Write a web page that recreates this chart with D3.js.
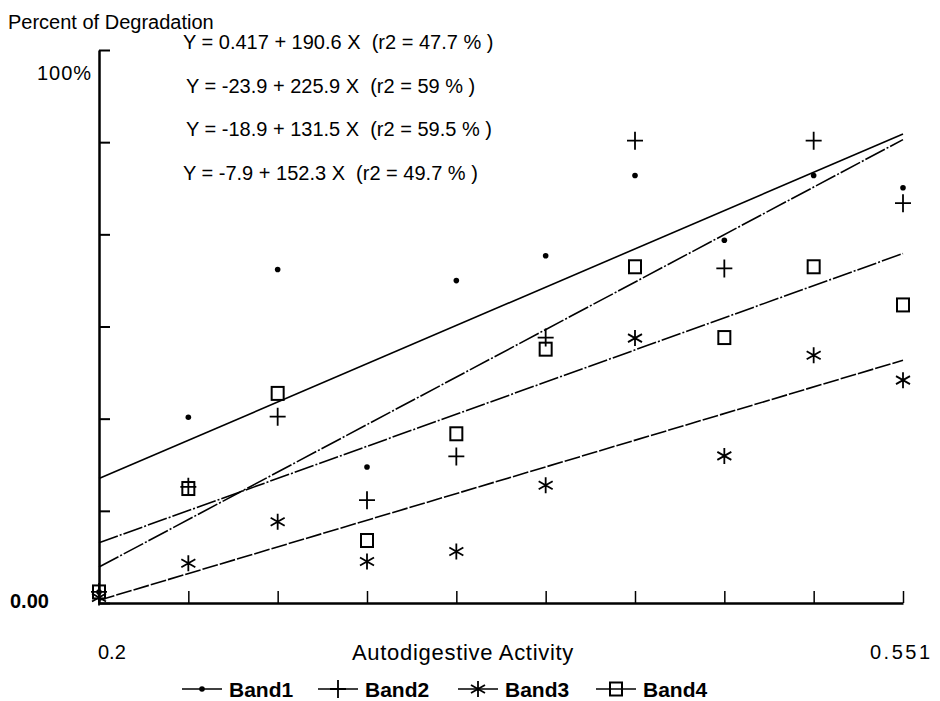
<!DOCTYPE html>
<html>
<head>
<meta charset="utf-8">
<script src="https://cdn.jsdelivr.net/npm/d3@7"></script>
<style>
  body { margin: 0; background: #fff; }
  text { font-family: "Liberation Sans", Arial, sans-serif; fill: #000; }
</style>
</head>
<body>
<div id="chart"></div>
<script>
var margin = { top: 50, right: 37, bottom: 98, left: 99 };
var width = 940 - margin.left - margin.right;
var height = 701 - margin.top - margin.bottom;

// x values where each band was measured
var xValues = [0.2, 0.239, 0.278, 0.317, 0.356, 0.395, 0.434, 0.473, 0.512, 0.551];
var bandNames = ['Band1', 'Band2', 'Band3', 'Band4'];
var band1 = [2, 33.6, 60.3, 24.6, 58.3, 62.8, 77.3, 65.6, 77.3, 75.1];
var band2 = [2, 21.0, 33.7, 18.6, 26.5, 48.0, 83.6, 60.5, 83.6, 72.3];
var band3 = [1, 7.2, 14.7, 7.5, 9.3, 21.3, 47.9, 26.6, 44.8, 40.3];
var band4 = [2, 20.7, 37.9, 11.3, 30.6, 45.9, 60.8, 48.0, 60.8, 53.9];
// fitted line values at x = 0.2 and x = 0.551
var fitX = [0.2, 0.551];
var fit1 = [22.5, 84.8];
var fit2 = [6.5, 83.8];
var fit3 = [0.5, 43.9];
var fit4 = [10.9, 63.2];
var equations = [
  'Y = 0.417 + 190.6 X  (r2 = 47.7 % )',
  'Y = -23.9 + 225.9 X  (r2 = 59 % )',
  'Y = -18.9 + 131.5 X  (r2 = 59.5 % )',
  'Y = -7.9 + 152.3 X  (r2 = 49.7 % )'
];
var yTicks = [0, 100 / 6, 200 / 6, 50, 400 / 6, 500 / 6, 100];
var yTickLabels = ['0.00', '100%'];
var xTickLabels = ['0.2', '0.551'];

var series = [band1, band2, band3, band4];
var fits = [fit1, fit2, fit3, fit4];
var shapes = ['dot', 'plus', 'star', 'square'];
var dashes = [null, '22,2,2,2', '16,2', '20,2,2,2'];

var svg = d3.select('#chart')
  .append('svg')
    .attr('width', 940)
    .attr('height', 701);

var g = svg.append('g')
  .attr('transform', `translate(${margin.left}, ${margin.top})`);

var xScale = d3.scaleLinear().domain([0.2, 0.551]).range([0, width]);
var yScale = d3.scaleLinear().domain([0, 100]).range([height, 0]);

// axes: ticks point into the plot
var yAxis = g.append('g')
  .call(d3.axisRight(yScale).tickValues(yTicks).tickSize(11).tickSizeOuter(0).tickFormat(''));
yAxis.select('.domain').attr('stroke-width', 2.5);
yAxis.selectAll('.tick line').attr('stroke-width', 2);

var xAxis = g.append('g')
  .attr('transform', `translate(0, ${height})`)
  .call(d3.axisTop(xScale).tickValues(xValues.slice(1)).tickSize(12).tickSizeOuter(0).tickFormat(''));
xAxis.select('.domain').attr('stroke-width', 2.5);
xAxis.selectAll('.tick line').attr('stroke-width', 1.5);

// fitted lines
var line = d3.line()
  .x(d => xScale(d[0]))
  .y(d => yScale(d[1]));

g.selectAll('.fit')
  .data(fits)
  .enter()
    .append('path')
    .attr('class', 'fit')
    .attr('d', d => line(fitX.map((x, i) => [x, d[i]])))
    .attr('fill', 'none')
    .attr('stroke', '#000')
    .attr('stroke-width', 1.6)
    .attr('stroke-dasharray', (d, i) => dashes[i]);

function drawMarker (sel, shape) {
  if (shape === 'dot') {
    sel.append('circle').attr('r', 2.8).attr('fill', '#000');
  } else if (shape === 'plus') {
    sel.append('path').attr('d', 'M-8,0H8M0,-9V9')
      .attr('stroke', '#000').attr('stroke-width', 1.8).attr('fill', 'none');
  } else if (shape === 'star') {
    sel.append('path').attr('d', 'M0,-8V8M-7,-4L7,4M-7,4L7,-4')
      .attr('stroke', '#000').attr('stroke-width', 1.8).attr('fill', 'none');
  } else {
    sel.append('rect').attr('x', -6).attr('y', -6.5).attr('width', 12).attr('height', 13)
      .attr('stroke', '#000').attr('stroke-width', 2).attr('fill', 'none');
  }
}

series.forEach((values, s) => {
  g.selectAll('.pt' + s)
    .data(values)
    .enter()
      .append('g')
      .attr('class', 'pt' + s)
      .attr('transform', (d, i) => `translate(${xScale(xValues[i])}, ${yScale(d)})`)
      .each(function () { drawMarker(d3.select(this), shapes[s]); });
});

// texts
svg.append('text')
  .attr('x', 8).attr('y', 29)
  .style('font-size', '20px')
  .text('Percent of Degradation');

svg.append('text')
  .attr('x', 37).attr('y', 80)
  .style('font-size', '20px')
  .style('letter-spacing', '1px')
  .text(yTickLabels[1]);

svg.append('text')
  .attr('x', 10).attr('y', 608)
  .style('font-size', '20px')
  .style('font-weight', 'bold')
  .text(yTickLabels[0]);

svg.selectAll('.eq')
  .data(equations)
  .enter()
    .append('text')
    .attr('class', 'eq')
    .attr('x', (d, i) => i === 0 || i === 3 ? 183 : 186)
    .attr('y', (d, i) => 49 + i * 43.5)
    .attr('xml:space', 'preserve')
    .style('font-size', '20px')
    .style('white-space', 'pre')
    .text(d => d);

svg.append('text')
  .attr('x', 98).attr('y', 659)
  .style('font-size', '20px')
  .text(xTickLabels[0]);

svg.append('text')
  .attr('x', 870).attr('y', 659)
  .style('font-size', '20px')
  .style('letter-spacing', '2.5px')
  .text(xTickLabels[1]);

svg.append('text')
  .attr('x', 352).attr('y', 660)
  .style('font-size', '22px')
  .style('letter-spacing', '0.7px')
  .text('Autodigestive Activity');

// legend
var legendX = [182, 318, 458, 596];
var legend = svg.selectAll('.legend')
  .data(bandNames)
  .enter()
    .append('g')
    .attr('class', 'legend')
    .attr('transform', (d, i) => `translate(${legendX[i]}, 689)`);

legend.append('line')
  .attr('x1', 0).attr('x2', 40)
  .attr('stroke', '#000').attr('stroke-width', 1.6);
legend.append('g')
  .attr('transform', 'translate(20, 0)')
  .each(function (d, i) { drawMarker(d3.select(this), shapes[i]); });
legend.append('text')
  .attr('x', 47).attr('y', 8)
  .style('font-size', '21px')
  .style('font-weight', 'bold')
  .text(d => d);
</script>
</body>
</html>
